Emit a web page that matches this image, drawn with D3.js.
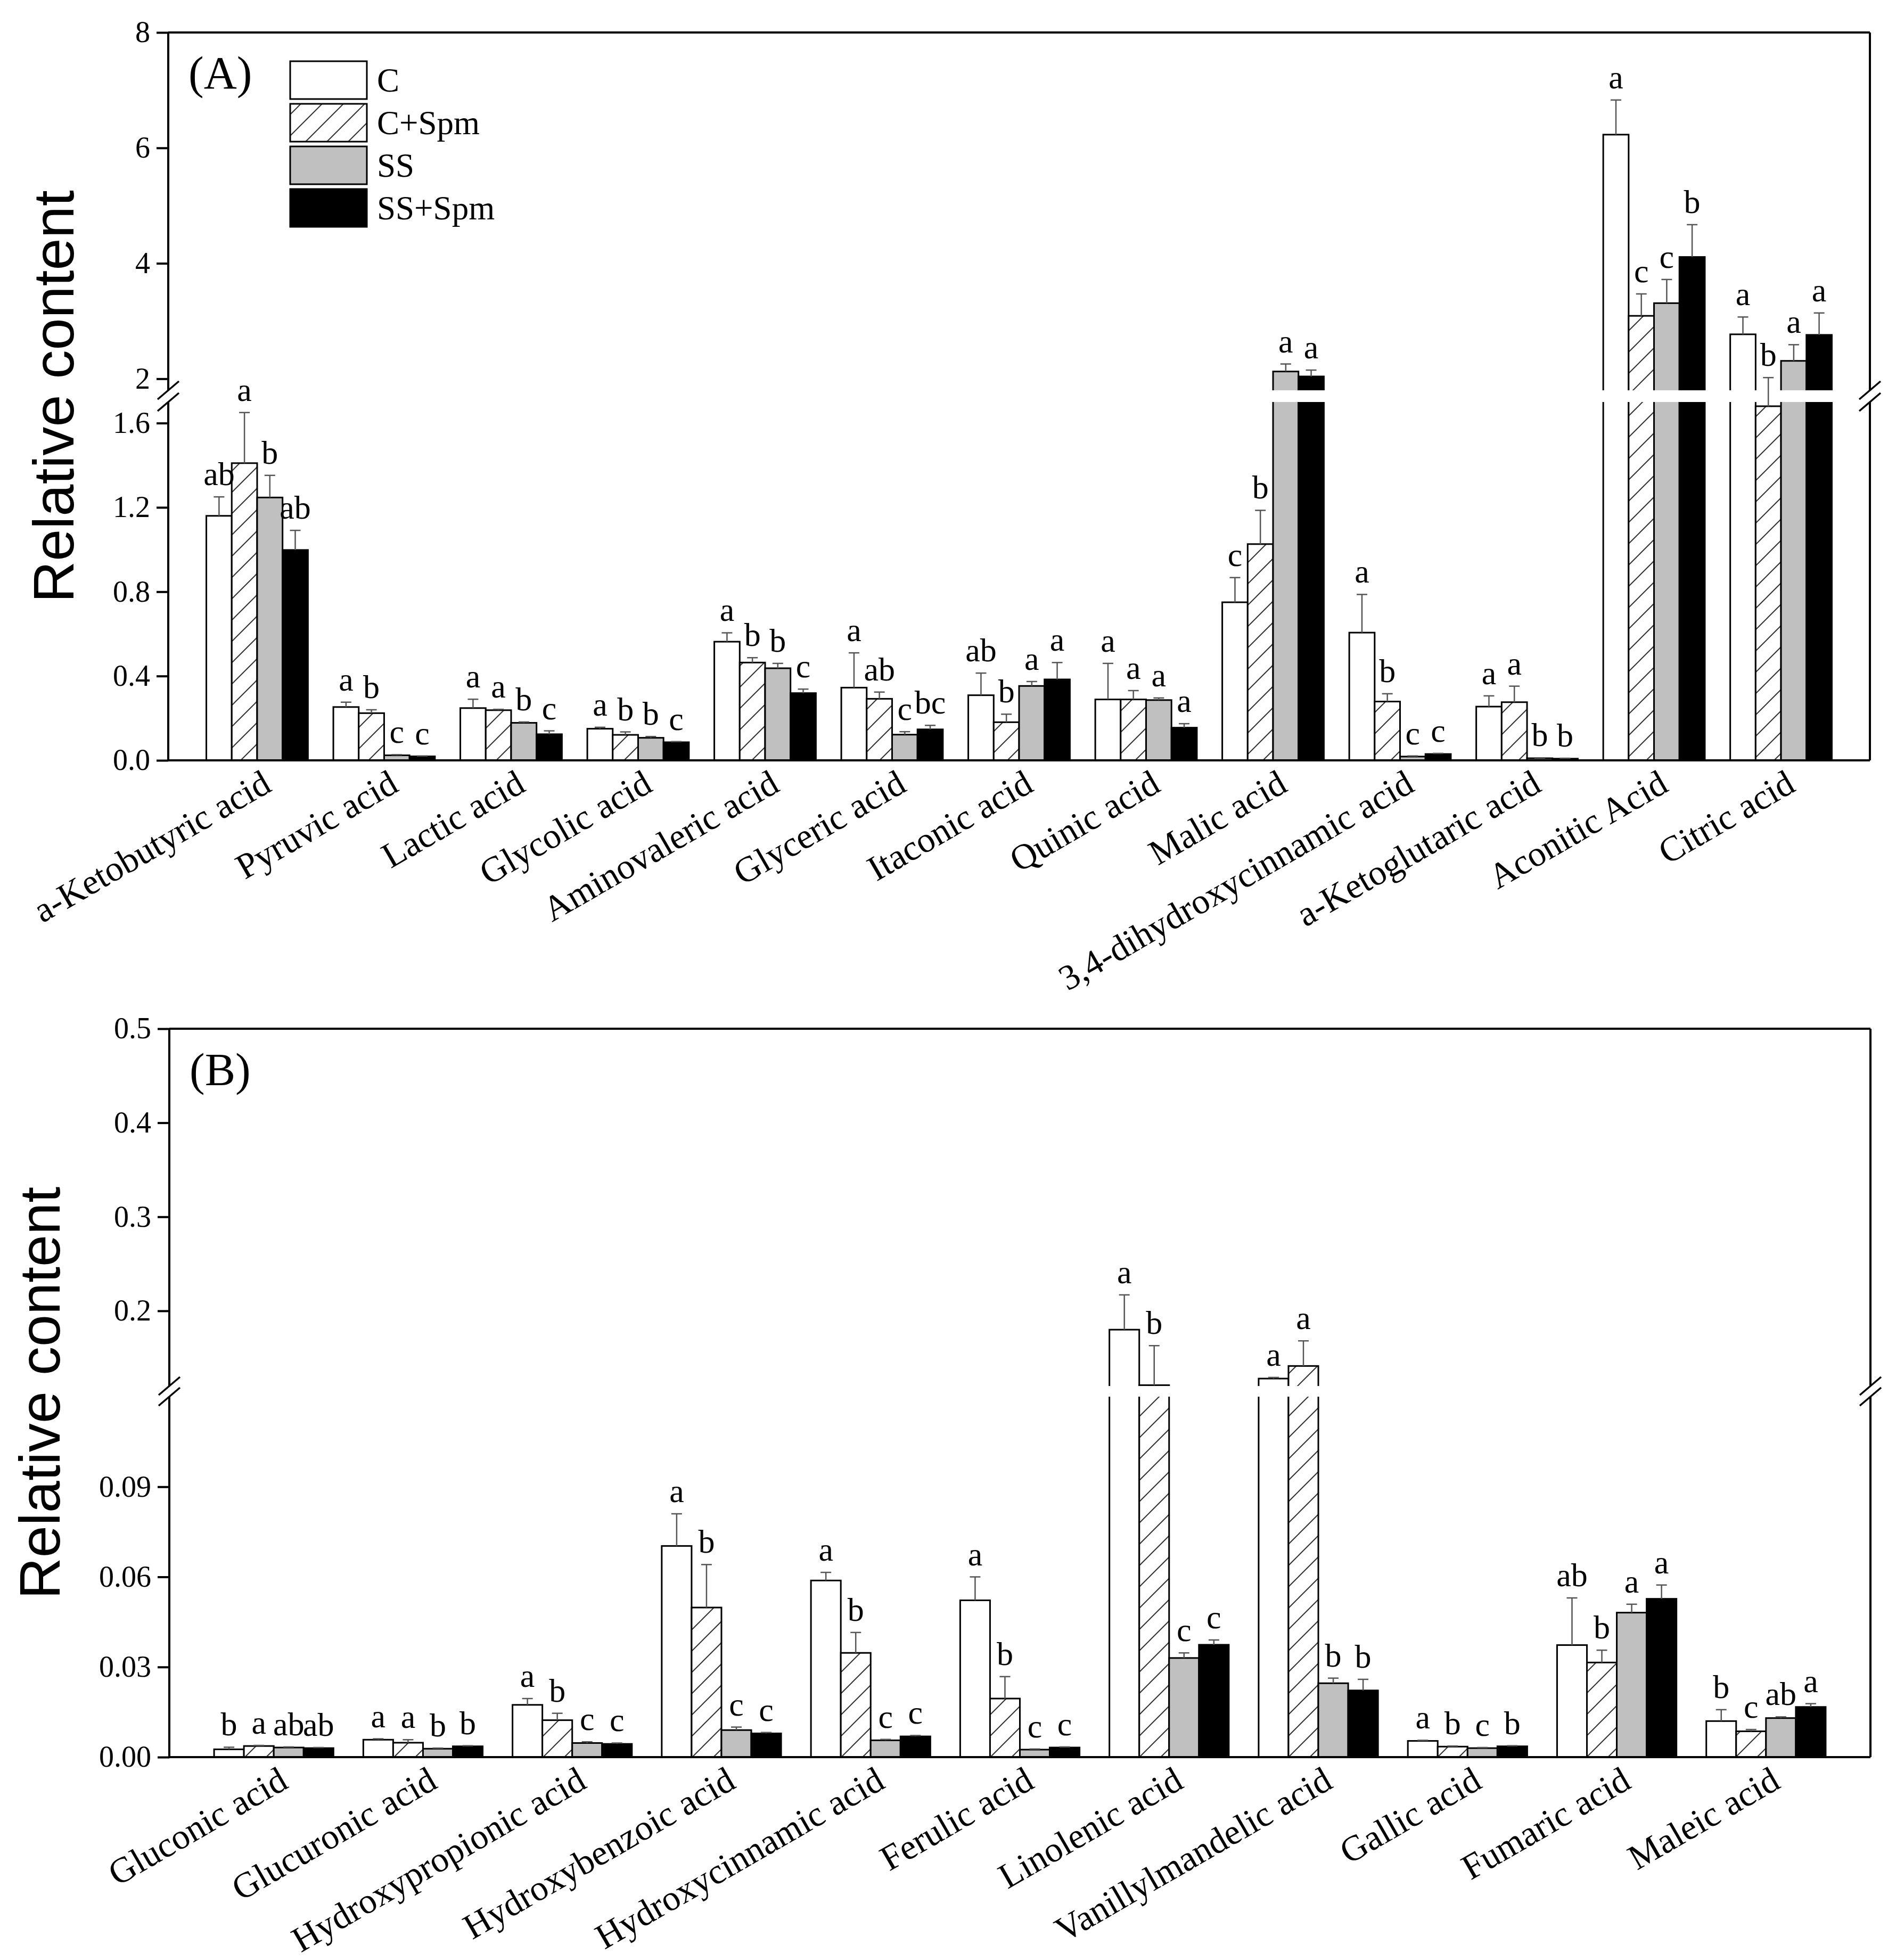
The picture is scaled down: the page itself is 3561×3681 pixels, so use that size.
<!DOCTYPE html>
<html>
<head>
<meta charset="utf-8">
<script src="https://cdn.jsdelivr.net/npm/d3@7"></script>
<style>
  body { margin: 0; background: #fff; }
</style>
</head>
<body>
<div id="chart"></div>
<script>
// treatments
var series = ["C", "C+Spm", "SS", "SS+Spm"];

// panel A: acids and their relative content (mean, sd, letters)
var acidsA = ["a-Ketobutyric acid", "Pyruvic acid", "Lactic acid", "Glycolic acid",
  "Aminovaleric acid", "Glyceric acid", "Itaconic acid", "Quinic acid", "Malic acid",
  "3,4-dihydroxycinnamic acid", "a-Ketoglutaric acid", "Aconitic Acid", "Citric acid"];
var meanA_C      = [1.16, 0.253, 0.248, 0.150, 0.563, 0.345, 0.309, 0.289, 0.750, 0.606, 0.255, 6.23, 2.77];
var meanA_CSpm   = [1.41, 0.224, 0.238, 0.121, 0.464, 0.292, 0.181, 0.289, 1.026, 0.279, 0.276, 3.09, 1.68];
var meanA_SS     = [1.247, 0.024, 0.178, 0.107, 0.437, 0.122, 0.353, 0.286, 2.126, 0.018, 0.010, 3.31, 2.31];
var meanA_SSSpm  = [0.998, 0.019, 0.124, 0.086, 0.319, 0.147, 0.384, 0.155, 2.04, 0.030, 0.008, 4.11, 2.76];
var sdA_C        = [0.09, 0.023, 0.042, 0.007, 0.042, 0.165, 0.105, 0.171, 0.117, 0.181, 0.051, 0.60, 0.30];
var sdA_CSpm     = [0.24, 0.016, 0.004, 0.014, 0.023, 0.032, 0.038, 0.042, 0.160, 0.037, 0.076, 0.38, 0.34];
var sdA_SS       = [0.105, 0.003, 0.004, 0.006, 0.023, 0.014, 0.021, 0.010, 0.13, 0.003, 0.002, 0.41, 0.28];
var sdA_SSSpm    = [0.093, 0.002, 0.016, 0.003, 0.019, 0.019, 0.080, 0.019, 0.11, 0.003, 0.002, 0.56, 0.38];
var letA_C       = ["ab", "a", "a", "a", "a", "a", "ab", "a", "c", "a", "a", "a", "a"];
var letA_CSpm    = ["a", "b", "a", "b", "b", "ab", "b", "a", "b", "b", "a", "c", "b"];
var letA_SS      = ["b", "c", "b", "b", "b", "c", "a", "a", "a", "c", "b", "c", "a"];
var letA_SSSpm   = ["ab", "c", "c", "c", "c", "bc", "a", "a", "a", "c", "b", "b", "a"];
var ticksA       = [0, 0.4, 0.8, 1.2, 1.6, 2, 4, 6, 8];
var tickLabelsA  = ["0.0", "0.4", "0.8", "1.2", "1.6", "2", "4", "6", "8"];

// panel B
var acidsB = ["Gluconic acid", "Glucuronic acid", "Hydroxypropionic acid", "Hydroxybenzoic acid",
  "Hydroxycinnamic acid", "Ferulic acid", "Linolenic acid", "Vanillylmandelic acid",
  "Gallic acid", "Fumaric acid", "Maleic acid"];
var meanB_C      = [0.0026, 0.0058, 0.0174, 0.0703, 0.0588, 0.0522, 0.180, 0.128, 0.0054, 0.0373, 0.0120];
var meanB_CSpm   = [0.0037, 0.0048, 0.0123, 0.0498, 0.0347, 0.0195, 0.121, 0.1414, 0.0035, 0.0315, 0.0086];
var meanB_SS     = [0.0032, 0.0028, 0.0047, 0.0090, 0.0056, 0.0025, 0.0330, 0.0246, 0.0030, 0.0481, 0.0130];
var meanB_SSSpm  = [0.0030, 0.0036, 0.0044, 0.0079, 0.0069, 0.0032, 0.0374, 0.0222, 0.0036, 0.0527, 0.0167];
var sdB_C        = [0.0007, 0.0003, 0.0021, 0.0107, 0.0027, 0.0078, 0.037, 0.0012, 0.0002, 0.0157, 0.0038];
var sdB_CSpm     = [0.0002, 0.0010, 0.0023, 0.0143, 0.0068, 0.0073, 0.042, 0.0267, 0.0002, 0.0041, 0.0006];
var sdB_SS       = [0.0002, 0.0002, 0.0004, 0.0010, 0.0003, 0.0002, 0.0017, 0.0017, 0.0002, 0.0028, 0.0004];
var sdB_SSSpm    = [0.0002, 0.0002, 0.0003, 0.0003, 0.0003, 0.0002, 0.0016, 0.0037, 0.0002, 0.0046, 0.0011];
var letB_C       = ["b", "a", "a", "a", "a", "a", "a", "a", "a", "ab", "b"];
var letB_CSpm    = ["a", "a", "b", "b", "b", "b", "b", "a", "b", "b", "c"];
var letB_SS      = ["ab", "b", "c", "c", "c", "c", "c", "b", "c", "a", "ab"];
var letB_SSSpm   = ["ab", "b", "c", "c", "c", "c", "c", "b", "b", "a", "a"];
var ticksB       = [0, 0.03, 0.06, 0.09, 0.2, 0.3, 0.4, 0.5];
var tickLabelsB  = ["0.00", "0.03", "0.06", "0.09", "0.2", "0.3", "0.4", "0.5"];

var width = 3561, height = 3681;
var serif = "'Liberation Serif', 'Times New Roman', serif";

var svg = d3.select("#chart").append("svg")
  .attr("width", width)
  .attr("height", height)
  .style("background", "#fff");

// hatch for C+Spm
var defs = svg.append("defs");
var pat = defs.append("pattern")
  .attr("id", "hatch")
  .attr("patternUnits", "userSpaceOnUse")
  .attr("width", 40).attr("height", 40);
pat.append("rect").attr("width", 40).attr("height", 40).attr("fill", "#fff");
pat.append("path")
  .attr("d", "M0,40 L40,0 M-10,10 L10,-10 M30,50 L50,30")
  .attr("stroke", "#333").attr("stroke-width", 2);

var fills = { "C": "#fff", "C+Spm": "url(#hatch)", "SS": "#c0c0c0", "SS+Spm": "#000" };

function makeRows(means, sds, lets) {
  var rows = [];
  means[0].forEach(function (_, i) {
    series.forEach(function (s, j) {
      rows.push({ i: i, s: s, v: means[j][i], e: sds[j][i], l: lets[j][i] });
    });
  });
  return rows;
}

function drawPanel(p) {
  var g = svg.append("g");
  var x = d3.scaleLinear().domain([0.3, p.cats.length + 0.7]).range([p.left, p.right]);
  var xs = d3.scaleBand().domain(series).range([-0.4, 0.4]);
  var y = d3.scaleLinear().domain(p.yDomain).range(p.yRange);
  var bw = x(1 + xs.bandwidth()) - x(1);
  var bx = function (d) { return x(d.i + 1 + xs(d.s)); };

  // bars
  g.selectAll("rect.bar")
    .data(p.rows)
    .join("rect")
    .attr("class", "bar")
    .attr("x", bx)
    .attr("width", bw)
    .attr("y", function (d) { return y(d.v); })
    .attr("height", function (d) { return y(0) - y(d.v); })
    .attr("fill", function (d) { return fills[d.s]; })
    .attr("stroke", "#000")
    .attr("stroke-width", 3);

  // axis break: blank band
  var gapTop = y(p.yDomain[2]), gapBot = y(p.yDomain[1]);
  g.append("rect")
    .attr("x", p.left - 4)
    .attr("width", p.right - p.left + 8)
    .attr("y", gapTop)
    .attr("height", gapBot - gapTop)
    .attr("fill", "#fff");

  // error bars (upper only)
  var eb = g.selectAll("g.err").data(p.rows).join("g").attr("class", "err")
    .attr("stroke", "#555").attr("stroke-width", 2.5);
  eb.append("line")
    .attr("x1", function (d) { return bx(d) + bw / 2; })
    .attr("x2", function (d) { return bx(d) + bw / 2; })
    .attr("y1", function (d) { return y(d.v); })
    .attr("y2", function (d) { return y(d.v + d.e); });
  eb.append("line")
    .attr("x1", function (d) { return bx(d) + bw / 2 - 10; })
    .attr("x2", function (d) { return bx(d) + bw / 2 + 10; })
    .attr("y1", function (d) { return y(d.v + d.e); })
    .attr("y2", function (d) { return y(d.v + d.e); });

  // significance letters
  g.selectAll("text.sig")
    .data(p.rows)
    .join("text")
    .attr("class", "sig")
    .attr("x", function (d) { return bx(d) + bw / 2; })
    .attr("y", function (d) { return y(d.v + d.e) - 22; })
    .attr("text-anchor", "middle")
    .attr("font-family", serif)
    .attr("font-size", 62)
    .text(function (d) { return d.l; });

  // y axis
  var ax = g.append("g")
    .attr("transform", "translate(" + p.left + ",0)")
    .call(d3.axisLeft(y).tickValues(p.ticks)
      .tickFormat(function (d, i) { return p.tickLabels[i]; })
      .tickSize(22).tickPadding(12));
  ax.select(".domain").remove();
  ax.selectAll(".tick line").attr("stroke", "#000").attr("stroke-width", 4);
  ax.selectAll(".tick text")
    .attr("font-family", serif)
    .attr("font-size", 56)
    .attr("fill", "#000");

  // frame with break
  var frame = g.append("g").attr("stroke", "#000").attr("stroke-width", 4).attr("fill", "none");
  frame.append("path").attr("d",
    "M" + p.left + "," + y(0) + "H" + p.right +
    "M" + p.left + "," + p.yRange[3] + "H" + p.right +
    "M" + p.left + "," + y(0) + "V" + gapBot + "M" + p.left + "," + gapTop + "V" + p.yRange[3] +
    "M" + p.right + "," + y(0) + "V" + gapBot + "M" + p.right + "," + gapTop + "V" + p.yRange[3]);
  [p.left, p.right].forEach(function (xx) {
    [gapTop, gapBot].forEach(function (yy) {
      frame.append("line")
        .attr("x1", xx - 20).attr("y1", yy + 17)
        .attr("x2", xx + 20).attr("y2", yy - 17)
        .attr("stroke-width", 3.5);
    });
  });

  // category labels
  g.selectAll("text.cat")
    .data(p.cats)
    .join("text")
    .attr("class", "cat")
    .attr("text-anchor", "end")
    .attr("font-family", serif)
    .attr("font-size", 67)
    .attr("transform", function (d, i) {
      return "translate(" + (x(i + 1) + 30) + "," + (y(0) + 56) + ") rotate(-30)";
    })
    .text(function (d) { return d; });

  // y title
  g.append("text")
    .attr("transform", "translate(" + p.titleX + "," + (y(0) + p.yRange[3]) / 2 + ") rotate(-90)")
    .attr("text-anchor", "middle")
    .attr("font-family", "'Liberation Sans', Arial, sans-serif")
    .attr("font-size", 108)
    .text("Relative content");

  // panel tag
  g.append("text")
    .attr("x", p.left + 38)
    .attr("y", p.tagY)
    .attr("font-family", serif)
    .attr("font-size", 86)
    .text(p.tag);
}

drawPanel({
  cats: acidsA,
  rows: makeRows([meanA_C, meanA_CSpm, meanA_SS, meanA_SSSpm],
                 [sdA_C, sdA_CSpm, sdA_SS, sdA_SSSpm],
                 [letA_C, letA_CSpm, letA_SS, letA_SSSpm]),
  left: 316, right: 3512,
  yDomain: [0, 1.7, 1.8, 8],
  yRange: [1428, 755, 733, 61],
  ticks: ticksA, tickLabels: tickLabelsA,
  titleX: 138, tag: "(A)", tagY: 166
});

drawPanel({
  cats: acidsB,
  rows: makeRows([meanB_C, meanB_CSpm, meanB_SS, meanB_SSSpm],
                 [sdB_C, sdB_CSpm, sdB_SS, sdB_SSSpm],
                 [letB_C, letB_CSpm, letB_SS, letB_SSSpm]),
  left: 318, right: 3513,
  yDomain: [0, 0.12, 0.1201, 0.5],
  yRange: [3300, 2623, 2603, 1932],
  ticks: ticksB, tickLabels: tickLabelsB,
  titleX: 112, tag: "(B)", tagY: 2038
});

// legend (panel A)
var leg = svg.append("g");
series.forEach(function (s, j) {
  var yy = 115 + j * 80;
  leg.append("rect")
    .attr("x", 545).attr("y", yy)
    .attr("width", 144).attr("height", 71)
    .attr("fill", fills[s])
    .attr("stroke", "#000").attr("stroke-width", 3);
  leg.append("text")
    .attr("x", 708).attr("y", yy + 57)
    .attr("font-family", serif)
    .attr("font-size", 63)
    .text(s);
});
</script>
</body>
</html>
